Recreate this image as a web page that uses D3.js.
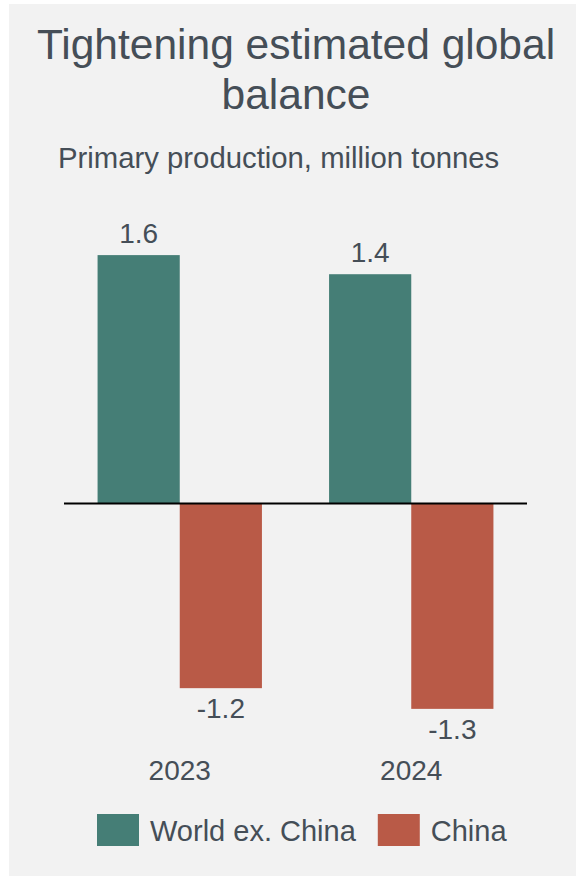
<!DOCTYPE html>
<html>
<head>
  <meta charset="utf-8">
  <title>Tightening estimated global balance</title>
  <script src="https://d3js.org/d3.v7.min.js"></script>
  <style>
    html, body {
      margin: 0;
      padding: 0;
      background: #fff;
    }
    svg text {
      font-family: "Liberation Sans", Arial, sans-serif;
      fill: #454e57;
    }
  </style>
</head>
<body>
  <svg></svg>
  <script>
    // data
    const years = ["2023", "2024"];
    const series = ["World ex. China", "China"];
    const worldExChina = [1.56, 1.44];
    const china = [-1.16, -1.29];
    const colors = ["#457e76", "#b95a47"];

    const W = 576, H = 876;
    const svg = d3.select("svg").attr("width", W).attr("height", H);

    // panel background
    svg.append("rect")
      .attr("x", 9).attr("y", 4)
      .attr("width", W - 9).attr("height", H - 4)
      .attr("fill", "#f2f2f2");

    // title + subtitle
    const title = svg.append("text")
      .attr("text-anchor", "middle")
      .attr("font-size", 42.5);
    title.append("tspan").attr("x", 296).attr("y", 59).text("Tightening estimated global");
    title.append("tspan").attr("x", 296).attr("y", 109).text("balance");

    svg.append("text")
      .attr("x", 58).attr("y", 168)
      .attr("font-size", 29.3)
      .text("Primary production, million tonnes");

    // scales
    const x0 = d3.scaleBand()
      .domain(years)
      .range([64, 527])
      .paddingInner(0.29)
      .paddingOuter(0.145);

    const x1 = d3.scaleBand()
      .domain(series)
      .range([0, x0.bandwidth()]);

    const y = d3.scaleLinear()
      .domain([-1.5, 1.8])
      .range([742.3, 216.9]);

    const rows = years.map((yr, i) => ({
      year: yr,
      values: [
        { key: series[0], value: worldExChina[i] },
        { key: series[1], value: china[i] }
      ]
    }));

    const color = d3.scaleOrdinal().domain(series).range(colors);
    // plain hyphen for negatives, like the original
    const fmt = d3.formatLocale({ decimal: ".", thousands: ",", grouping: [3], currency: ["", ""], minus: "-" }).format(".1f");

    const groups = svg.append("g").selectAll("g")
      .data(rows)
      .join("g")
      .attr("transform", d => `translate(${x0(d.year)},0)`);

    groups.selectAll("rect")
      .data(d => d.values)
      .join("rect")
      .attr("x", d => x1(d.key))
      .attr("width", x1.bandwidth())
      .attr("y", d => y(Math.max(0, d.value)))
      .attr("height", d => Math.abs(y(d.value) - y(0)))
      .attr("fill", d => color(d.key));

    groups.selectAll("text")
      .data(d => d.values)
      .join("text")
      .attr("text-anchor", "middle")
      .attr("font-size", 28)
      .attr("x", d => x1(d.key) + x1.bandwidth() / 2)
      .attr("y", d => d.value >= 0 ? y(d.value) - 12 : y(d.value) + 30)
      .text(d => fmt(d.value));

    // zero line
    svg.append("line")
      .attr("x1", x0.range()[0]).attr("x2", x0.range()[1])
      .attr("y1", y(0)).attr("y2", y(0))
      .attr("stroke", "#000")
      .attr("stroke-width", 2);

    // year labels
    const xAxis = svg.append("g")
      .attr("transform", "translate(0,757)")
      .call(d3.axisBottom(x0).tickSize(0));
    xAxis.select(".domain").remove();
    xAxis.selectAll("text")
      .attr("font-size", 28)
      .attr("font-family", null)
      .style("fill", "#454e57");

    // legend
    const legend = svg.append("g").attr("transform", "translate(97,814)");
    let lx = 0;
    series.forEach((s, i) => {
      const item = legend.append("g").attr("transform", `translate(${lx},0)`);
      item.append("rect")
        .attr("width", 42).attr("height", 32)
        .attr("fill", color(s));
      const t = item.append("text")
        .attr("x", 53).attr("y", 27)
        .attr("font-size", 29)
        .text(s);
      lx += 53 + t.node().getComputedTextLength() + 22;
    });
  </script>
</body>
</html>
